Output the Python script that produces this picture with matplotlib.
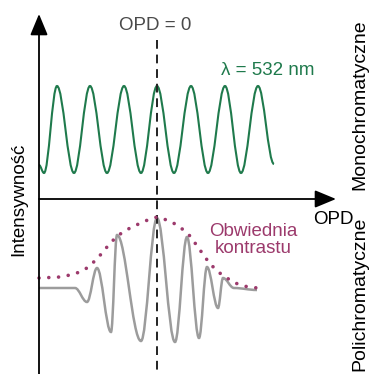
import matplotlib
matplotlib.use("Agg")
import matplotlib.pyplot as plt
import numpy as np
from matplotlib.path import Path
from matplotlib.patches import PathPatch

plt.rcParams['font.family'] = ['Liberation Sans', 'DejaVu Sans']

#----------------------------------Data (picture coordinates, y down)------------------------------------

# monochromatic fringes: extrema
mono_x = [39, 44, 57, 74, 90, 107, 124, 141, 157, 174, 191, 208, 225, 241, 258, 274]
mono_y = [165, 173, 86, 173, 86, 173, 86, 173, 86, 173, 86, 173, 86, 173, 86, 164]

# polychromatic interferogram: extrema
poly_x = [39, 75, 87, 97, 111, 117, 141, 157, 175, 187, 199, 207, 218, 223, 234, 257]
poly_y = [288, 288, 302, 268, 332, 235, 341, 218, 342, 237, 338, 267, 308, 278, 288, 290]

# contrast envelope (dotted)
env_x = [39, 60, 75, 87, 97, 107, 117, 130, 145, 157, 170, 180, 190, 200, 210, 222, 235, 248, 258]
env_y = [278, 277, 274, 268, 259, 247, 236, 228, 221, 217, 221, 227, 236, 250, 264, 275, 283, 287, 288]

opd_zero = 157
mono_label = "λ = 532 nm"
env_label = "Obwiednia\nkontrastu"

green = "#1f7a4c"
purple = "#9c3a6c"
gray = "#9c9c9c"

#----------------------------------Helpers------------------------------------------------------------

def smooth_path(xs, ys):
    # cubic bezier between consecutive extrema, flat tangents at each point
    verts = [(xs[0], ys[0])]
    codes = [Path.MOVETO]
    k = 0.364
    for i in range(len(xs) - 1):
        dx = xs[i + 1] - xs[i]
        verts += [(xs[i] + k * dx, ys[i]), (xs[i + 1] - k * dx, ys[i + 1]), (xs[i + 1], ys[i + 1])]
        codes += [Path.CURVE4] * 3
    return Path(verts, codes)

#----------------------------------Figure-------------------------------------------------------------

fig = plt.figure(figsize=(3.69, 3.74), dpi=100)
ax = fig.add_axes([0, 0, 1, 1])
ax.set_xlim(0, 369)
ax.set_ylim(374, 0)
ax.axis('off')

# axes with arrows
arrow = dict(arrowstyle='-|>,head_length=0.65,head_width=0.27', mutation_scale=20,
             color='black', lw=1.3, shrinkA=0, shrinkB=0)
ax.annotate('', xy=(39, 14), xytext=(39, 374), arrowprops=arrow)
ax.annotate('', xy=(336, 199), xytext=(39, 199), arrowprops=arrow)

# OPD = 0 line
ax.plot([opd_zero, opd_zero], [40, 370], color='#222222', lw=1.4, ls=(0, (4.5, 3)))
ax.text(opd_zero - 2, 25, "OPD = 0", color='#4a4a4a', fontsize=13.5, ha='center', va='center')

# curves
ax.add_patch(PathPatch(smooth_path(mono_x, mono_y), fill=False, edgecolor=green, lw=1.5))
ax.add_patch(PathPatch(smooth_path(poly_x, poly_y), fill=False, edgecolor=gray, lw=1.8))
ax.plot(env_x, env_y, color=purple, lw=2.6, ls=(0, (0.01, 2.7)), dash_capstyle='round')

# labels
ax.text(268, 70, mono_label, color=green, fontsize=13.5, ha='center', va='center')
ax.text(253, 240, env_label, color=purple, fontsize=13.5, ha='center', va='center', linespacing=1.0)
ax.text(333, 219, "OPD", color='black', fontsize=13.5, ha='center', va='center')
ax.text(19, 199, "Intensywność", color='black', fontsize=13.5, ha='center', va='center', rotation=90)
ax.text(360, 105, "Monochromatyczne", color='black', fontsize=14, ha='center', va='center', rotation=90)
ax.text(360, 294, "Polichromatyczne", color='black', fontsize=14, ha='center', va='center', rotation=90)

fig.savefig("out.png", dpi=100)
